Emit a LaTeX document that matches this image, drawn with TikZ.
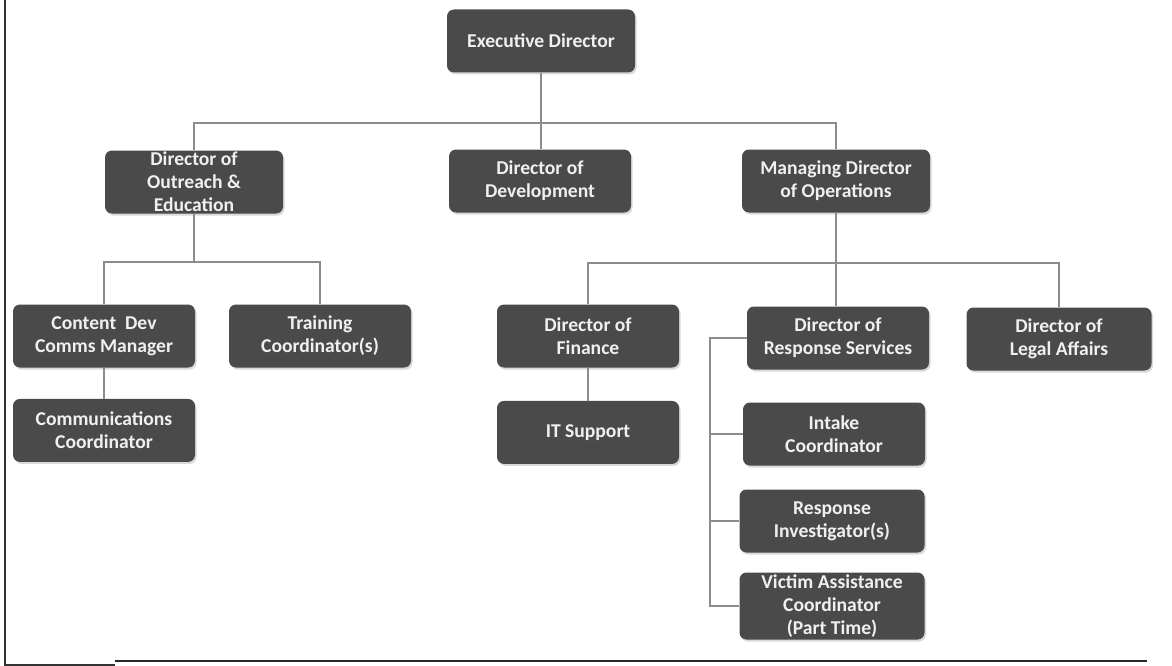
\documentclass[tikz,border=0pt]{standalone}
\usepackage{fontspec}
\setmainfont{Carlito}
\usetikzlibrary{positioning, shadows}
\definecolor{boxgray}{HTML}{4A4A4A}
\definecolor{linkgray}{HTML}{8C8C8C}

\begin{document}
\begin{tikzpicture}[x=1pt, y=-1pt,
    role/.style={rectangle, rounded corners=7pt, fill=boxgray, text=white!94!black,
      font=\bfseries\fontsize{19.6}{23}\selectfont, align=center,
      minimum width=182pt, minimum height=63pt, inner sep=0pt,
      drop shadow={shadow xshift=1.5pt, shadow yshift=-2pt, opacity=.3}},
    link/.style={draw=linkgray, line width=2pt}]
      \useasboundingbox (0,0) rectangle (1172,666);

      % top levels
      \node[role, minimum width=188pt] (exec) at (541,41) {Executive Director};
      \node[role, minimum width=178pt] (outreach) at (194,182) {Director of\\Outreach \&\\Education};
      \node[role] (dev) at (540,181) {Director of\\Development};
      \node[role, minimum width=188pt] (ops) at (836,181) {Managing Director\\of Operations};

      % outreach branch
      \node[role] (content) at (104,336) {Content~ Dev\\Comms Manager};
      \node[role] (training) at (320,336) {Training\\Coordinator(s)};
      \node[role] (commscoord) [below=31pt of content] {Communications\\Coordinator};

      % operations branch
      \node[role] (finance) at (588,336) {Director of\\Finance};
      \node[role] (itsupport) [below=33pt of finance] {IT Support};
      \node[role] (response) at (838,338) {Director of\\Response Services};
      \node[role, minimum width=185pt] (legal) at (1059,339) {Director of\\Legal Affairs};
      \node[role] (intake) at (834,434) {Intake\\Coordinator};
      \node[role, minimum width=185pt] (investigator) at (832,521) {Response\\Investigator(s)};
      \node[role, minimum width=185pt, minimum height=67pt] (victim) at (832,606) {Victim Assistance\\Coordinator\\(Part Time)};

      \coordinate (topbus) at (541,123);
      \coordinate (leftbus) at (192,262);
      \coordinate (opsbus) at (836,263);
      \coordinate (sidebus) at (710,339);

      \draw[link] (exec.south) -- (exec.south |- dev.north);
      \draw[link] (outreach.north) |- (topbus) -| (ops.north);
      \draw[link] (outreach.south) -- (outreach.south |- leftbus);
      \draw[link] (content.north) |- (leftbus) -| (training.north);
      \draw[link] (content) -- (commscoord);
      \draw[link] (ops.south) -- (ops.south |- response.north);
      \draw[link] (finance.north) |- (opsbus) -| (legal.north);
      \draw[link] (finance) -- (itsupport);
      \draw[link] (response.west) -- (response.west -| sidebus) |- (victim.west);
      \foreach \n in {intake, investigator}
        \draw[link] (\n.west -| sidebus) -- (\n.west);

      % page frame
      \draw[line width=1.5pt, black!80] (5,0) -- (5,665) -- (115,665);
      \draw[line width=2pt, black!85] (115,661) -- (1147,661);
    \end{tikzpicture}
\end{document}
